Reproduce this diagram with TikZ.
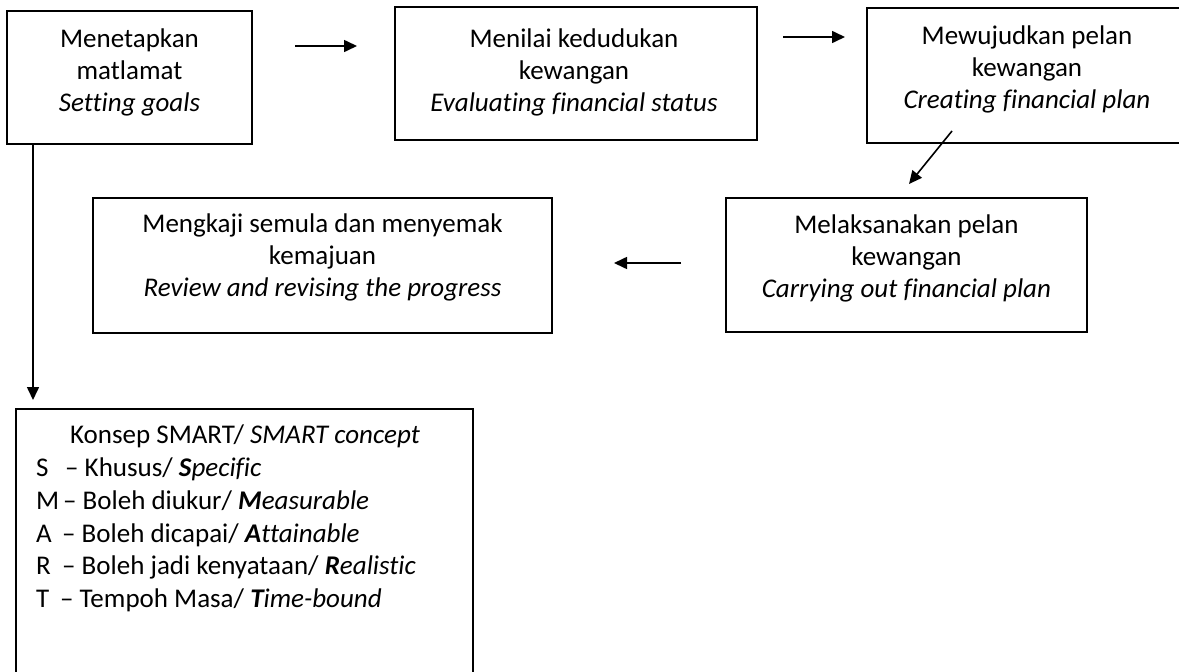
\documentclass[tikz,border=0pt]{standalone}
\usepackage{fontspec}
\setmainfont{Carlito}[Ligatures=NoCommon]
\usetikzlibrary{arrows.meta,calc}
\begin{document}
\begin{tikzpicture}[x=1pt,y=-1pt,
  box/.style={draw, line width=1.2pt, inner sep=0pt},
  txt/.style={align=center, anchor=base, font=\fontsize{27}{32}\selectfont, inner sep=0pt},
  ltxt/.style={anchor=base west, font=\fontsize{27}{32}\selectfont, inner sep=0pt},
  arr/.style={line width=1.6pt, -{Triangle[length=13pt,width=12pt]}}]
\useasboundingbox (0,0) rectangle (1179,672);
\clip (0,0) rectangle (1179,672);
% boxes
\node[box, minimum width=245pt, minimum height=133pt] (A) at (129.5,77.5) {};
\node[box, minimum width=362pt, minimum height=133pt] (B) at (576,73.5) {};
\node[box, minimum width=323pt, minimum height=135pt] (C) at (1028.5,75.5) {};
\node[box, minimum width=361pt, minimum height=134pt] (D) at (906.5,265) {};
\node[box, minimum width=459pt, minimum height=135pt] (E) at (322.5,265.5) {};
\node[box, minimum width=457pt, minimum height=291pt] (S) at (244.5,554.5) {};
% texts (base anchor = baseline of last line)
\node[txt] (At) at (129.5,111) {Menetapkan\\matlamat\\\textit{Setting goals}};
\node[txt] (Bt) at (574,111) {Menilai kedudukan\\kewangan\\\textit{Evaluating financial status}};
\node[txt] (Ct) at (1027,108) {Mewujudkan pelan\\kewangan\\\textit{Creating financial plan}};
\node[txt] (Dt) at (906.5,297) {Melaksanakan pelan\\kewangan\\\textit{Carrying out financial plan}};
\node[txt] (Et) at (322.5,296) {Mengkaji semula dan menyemak\\kemajuan\\\textit{Review and revising the progress}};
% SMART
\node[anchor=base, font=\fontsize{27}{32}\selectfont, inner sep=0pt] (s0) at (245,443) {Konsep SMART/ \textit{SMART concept}};
\node[ltxt] (s1) at (36,476) {\makebox[29pt][l]{S}– Khusus/ \textit{\textbf{S}pecific}};
\node[ltxt] (s2) at (36,509) {\makebox[27pt][l]{M}– Boleh diukur/ \textit{\textbf{M}easurable}};
\node[ltxt] (s3) at (36,542) {\makebox[26pt][l]{A}– Boleh dicapai/ \textit{\textbf{A}ttainable}};
\node[ltxt] (s4) at (36,574.5) {\makebox[26pt][l]{R}– Boleh jadi kenyataan/ \textit{\textbf{R}ealistic}};
\node[ltxt] (s5) at (36,607) {\makebox[24pt][l]{T}– Tempoh Masa/ \textit{\textbf{T}ime-bound}};
% arrows
\coordinate (a1) at (295,46); \coordinate (a2) at (357,46);
\coordinate (b1) at (783,37); \coordinate (b2) at (845,37);
\coordinate (c1) at (952,131); \coordinate (c2) at (909,184);
\coordinate (d1) at (681,263); \coordinate (d2) at (614,263);
\coordinate (e1) at (33,144); \coordinate (e2) at (33,400);
\draw[arr] (a1) -- (a2);
\draw[arr] (b1) -- (b2);
\draw[arr] (c1) -- (c2);
\draw[arr] (d1) -- (d2);
\draw[arr] (e1) -- (e2);
\end{tikzpicture}
\end{document}
